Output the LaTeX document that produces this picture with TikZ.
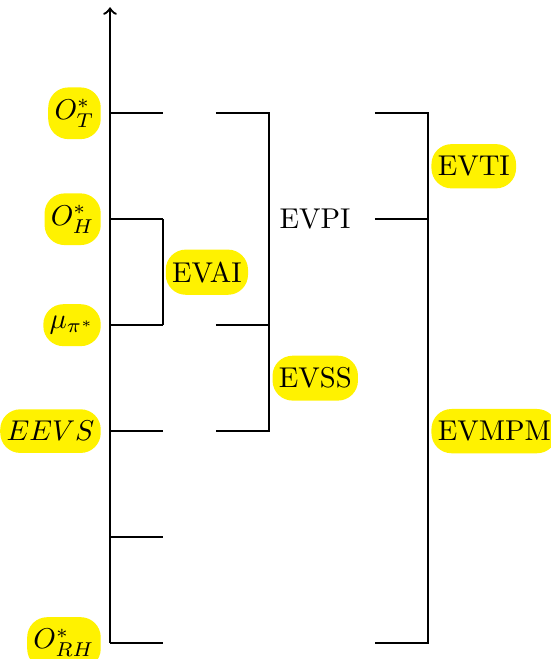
\documentclass[tikz,border=0pt]{standalone}
\usetikzlibrary{positioning,calc}
\tikzset{
    hl/.style={fill=yellow, rounded corners=7pt, inner xsep=2.2pt, inner ysep=4.2pt},
}
\begin{document}
\begin{tikzpicture}[thick]
    \useasboundingbox (-1.35,-0.196) rectangle (5.41,7.89);
        % axis and ticks
        \coordinate (top) at (0, 7.8);
        \foreach \i in {0,...,5} {
            \coordinate (a\i) at (0, 1.3*\i);
            \coordinate (b\i) at (0.65, 1.3*\i);
            \draw (a\i) -- (b\i);
        }
        \draw [->] (a0) -- (top);
        \coordinate (c5) at (1.3, 6.5);
        \coordinate (d5) at (1.95, 6.5);
        \coordinate (c3) at (1.3, 3.9);
        \coordinate (d3) at (1.95, 3.9);
        \coordinate (c2) at (1.3, 2.6);
        \coordinate (d2) at (1.95, 2.6);
        \coordinate (e5) at (3.25, 6.5);
        \coordinate (f5) at (3.9, 6.5);
        \coordinate (e4) at (3.25, 5.2);
        \coordinate (f4) at (3.9, 5.2);
        \coordinate (e0) at (3.25, 0);
        \coordinate (f0) at (3.9, 0);
        % brackets
        \draw (b4) -- (b3);
        \draw (c5) -- (d5) -- (d2) -- (c2);
        \draw (c3) -- (d3);
        \draw (e5) -- (f5) -- (f0) -- (e0);
        \draw (e4) -- (f4);
        % labels on the axis
        \node [hl, left=0.1cm] (OT) at (a5) {$O^*_T$};
        \node [hl, left=0.1cm] (OH) at (a4) {$O^*_H$};
        \node [hl, left=0.1cm] (mu) at (a3) {$\mu_{\pi^*}$};
        \node [hl, left=0.1cm] (EEVS) at (a2) {$EEVS$};
        \node [hl, left=0.1cm] (ORH) at (a0) {$O^*_{RH}$};
        % labels on the brackets
        \node [hl, right=0.02cm] (EVAI) at ($(b4)!0.5!(b3)$) {EVAI};
        \node [right] (EVPI) at ($(d5)!0.5!(d3)$) {EVPI};
        \node [hl, right=0.03cm] (EVSS) at ($(d3)!0.5!(d2)$) {EVSS};
        \node [hl, right=0.03cm] (EVTI) at ($(f5)!0.5!(f4)$) {EVTI};
        \node [hl, right=0.03cm] (EVMPM) at ($(f4)!0.5!(f0)$) {EVMPM};
\end{tikzpicture}
\end{document}
